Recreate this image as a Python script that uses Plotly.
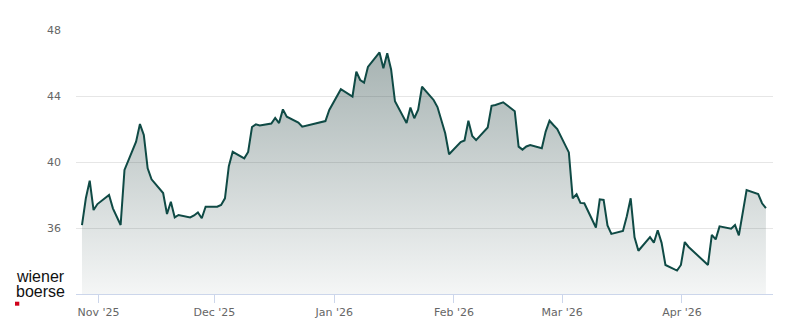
import plotly.graph_objects as go
import pandas as pd

# ---- data (closing prices) ----
dates = [
    "2025-10-27", "2025-10-28", "2025-10-29", "2025-10-30", "2025-10-31",
    "2025-11-03", "2025-11-04", "2025-11-05", "2025-11-06", "2025-11-07",
    "2025-11-10", "2025-11-11", "2025-11-12", "2025-11-13", "2025-11-14",
    "2025-11-17", "2025-11-18", "2025-11-19", "2025-11-20", "2025-11-21",
    "2025-11-24", "2025-11-25", "2025-11-26", "2025-11-27", "2025-11-28",
    "2025-12-01", "2025-12-02", "2025-12-03", "2025-12-04", "2025-12-05",
    "2025-12-08", "2025-12-09", "2025-12-10", "2025-12-11", "2025-12-12",
    "2025-12-15", "2025-12-16", "2025-12-17", "2025-12-18", "2025-12-19",
    "2025-12-22", "2025-12-23", "2025-12-29", "2025-12-30", "2026-01-02",
    "2026-01-05", "2026-01-06", "2026-01-07", "2026-01-08", "2026-01-09",
    "2026-01-12", "2026-01-13", "2026-01-14", "2026-01-15", "2026-01-16",
    "2026-01-19", "2026-01-20", "2026-01-21", "2026-01-22", "2026-01-23",
    "2026-01-26", "2026-01-27", "2026-01-28", "2026-01-29", "2026-01-30",
    "2026-02-02", "2026-02-03", "2026-02-04", "2026-02-05", "2026-02-06",
    "2026-02-09", "2026-02-10", "2026-02-11", "2026-02-12", "2026-02-13",
    "2026-02-16", "2026-02-17", "2026-02-18", "2026-02-19", "2026-02-20",
    "2026-02-23", "2026-02-24", "2026-02-25", "2026-02-26", "2026-02-27",
    "2026-03-02", "2026-03-03", "2026-03-04", "2026-03-05", "2026-03-06",
    "2026-03-09", "2026-03-10", "2026-03-11", "2026-03-12", "2026-03-13",
    "2026-03-16", "2026-03-17", "2026-03-18", "2026-03-19", "2026-03-20",
    "2026-03-23", "2026-03-24", "2026-03-25", "2026-03-26", "2026-03-27",
    "2026-03-30", "2026-03-31", "2026-04-01", "2026-04-02",
    "2026-04-07", "2026-04-08", "2026-04-09", "2026-04-10",
    "2026-04-13", "2026-04-14", "2026-04-15", "2026-04-16", "2026-04-17",
    "2026-04-20", "2026-04-21", "2026-04-22",
]
prices = [
    36.18, 37.80, 38.87, 37.09, 37.45,
    38.00, 37.19, 36.69, 36.18, 39.52,
    41.23, 42.30, 41.64, 39.62, 38.95,
    38.12, 36.85, 37.59, 36.64, 36.79,
    36.64, 36.76, 36.94, 36.59, 37.29,
    37.29, 37.40, 37.80, 39.75, 40.62,
    40.22, 40.61, 42.12, 42.28, 42.21,
    42.33, 42.67, 42.36, 43.19, 42.75,
    42.39, 42.14, 42.48, 43.15, 44.41,
    43.97, 45.47, 44.97, 44.81, 45.76,
    46.64, 45.68, 46.59, 45.61, 43.68,
    42.36, 43.30, 42.65, 43.17, 44.56,
    43.76, 43.33, 42.55, 41.74, 40.47,
    41.21, 41.30, 42.50, 41.58, 41.33,
    42.09, 43.41, 43.46, 43.53, 43.62,
    43.08, 40.93, 40.75, 40.94, 41.03,
    40.83, 41.84, 42.50, 42.24, 42.00,
    40.58, 37.80, 38.04, 37.52, 37.50,
    36.03, 37.74, 37.70, 36.15, 35.64,
    35.82, 36.71, 37.80, 35.44, 34.62,
    35.45, 35.11, 35.86, 35.10, 33.76,
    33.42, 33.76, 35.15, 34.85,
    33.76, 35.58, 35.31, 36.10,
    35.96, 36.18, 35.55, 36.90, 38.30,
    38.06, 37.50, 37.20,
]
y_ticks = [36, 40, 44, 48]
y_range = [32, 48]
x_range = ["2025-10-26 04:20", "2026-04-24 13:30"]

# timestamps at market close
x = pd.to_datetime(dates) + pd.Timedelta(hours=17, minutes=30)

W, H = 800, 324
ML, MR, MT, MB = 76, 27, 30, 30
PW, PH = W - ML - MR, H - MT - MB


def px(xp):
    return (xp - ML) / PW


def py(yp):
    return (H - MB - yp) / PH


LINE = "#0f4a45"

fig = go.Figure()
fig.add_trace(go.Scatter(
    x=x, y=prices, mode="lines",
    line=dict(color=LINE, width=2),
    fill="tozeroy",
    fillgradient=dict(
        type="vertical",
        colorscale=[[0, "rgba(40,70,68,0.05)"], [1, "rgba(40,70,68,0.42)"]],
        start=32, stop=47,
    ),
    hoverinfo="skip",
    showlegend=False,
))

fig.update_layout(
    width=W, height=H,
    margin=dict(l=ML, r=MR, t=MT, b=MB, pad=0, autoexpand=False),
    paper_bgcolor="white", plot_bgcolor="white",
    font=dict(family="DejaVu Sans", size=11, color="#666666"),
    xaxis=dict(
        range=x_range, type="date", automargin=False,
        tick0="2025-11-01", dtick="M1", tickformat="%b '%y",
        ticks="outside", ticklen=8, tickcolor="#ccd6eb", tickwidth=1,
        showline=True, linecolor="#ccd6eb", linewidth=1,
        showgrid=False, zeroline=False,
        tickfont=dict(family="DejaVu Sans", size=11, color="#666666"),
    ),
    yaxis=dict(
        range=y_range, tickmode="array", tickvals=y_ticks, automargin=False,
        ticktext=[str(v) for v in y_ticks],
        showgrid=True, gridcolor="#e6e6e6", gridwidth=1,
        zeroline=False, showline=False, ticks="",
        ticklabelstandoff=14,
        tickfont=dict(family="DejaVu Sans", size=11, color="#666666"),
    ),
)

# logo
fig.add_annotation(xref="paper", yref="paper", x=px(14), y=py(276),
                   xanchor="left", yanchor="middle", showarrow=False,
                   text="wiener", font=dict(family="Liberation Sans", size=16, color="#111111"))
fig.add_annotation(xref="paper", yref="paper", x=px(14), y=py(291),
                   xanchor="left", yanchor="middle", showarrow=False,
                   text="boerse", font=dict(family="Liberation Sans", size=16, color="#111111"))
fig.add_shape(type="rect", xref="paper", yref="paper",
              x0=px(15), x1=px(19.3), y0=py(305.7), y1=py(301.7),
              fillcolor="#d0021b", line=dict(width=0))

fig.write_html("out.html")
